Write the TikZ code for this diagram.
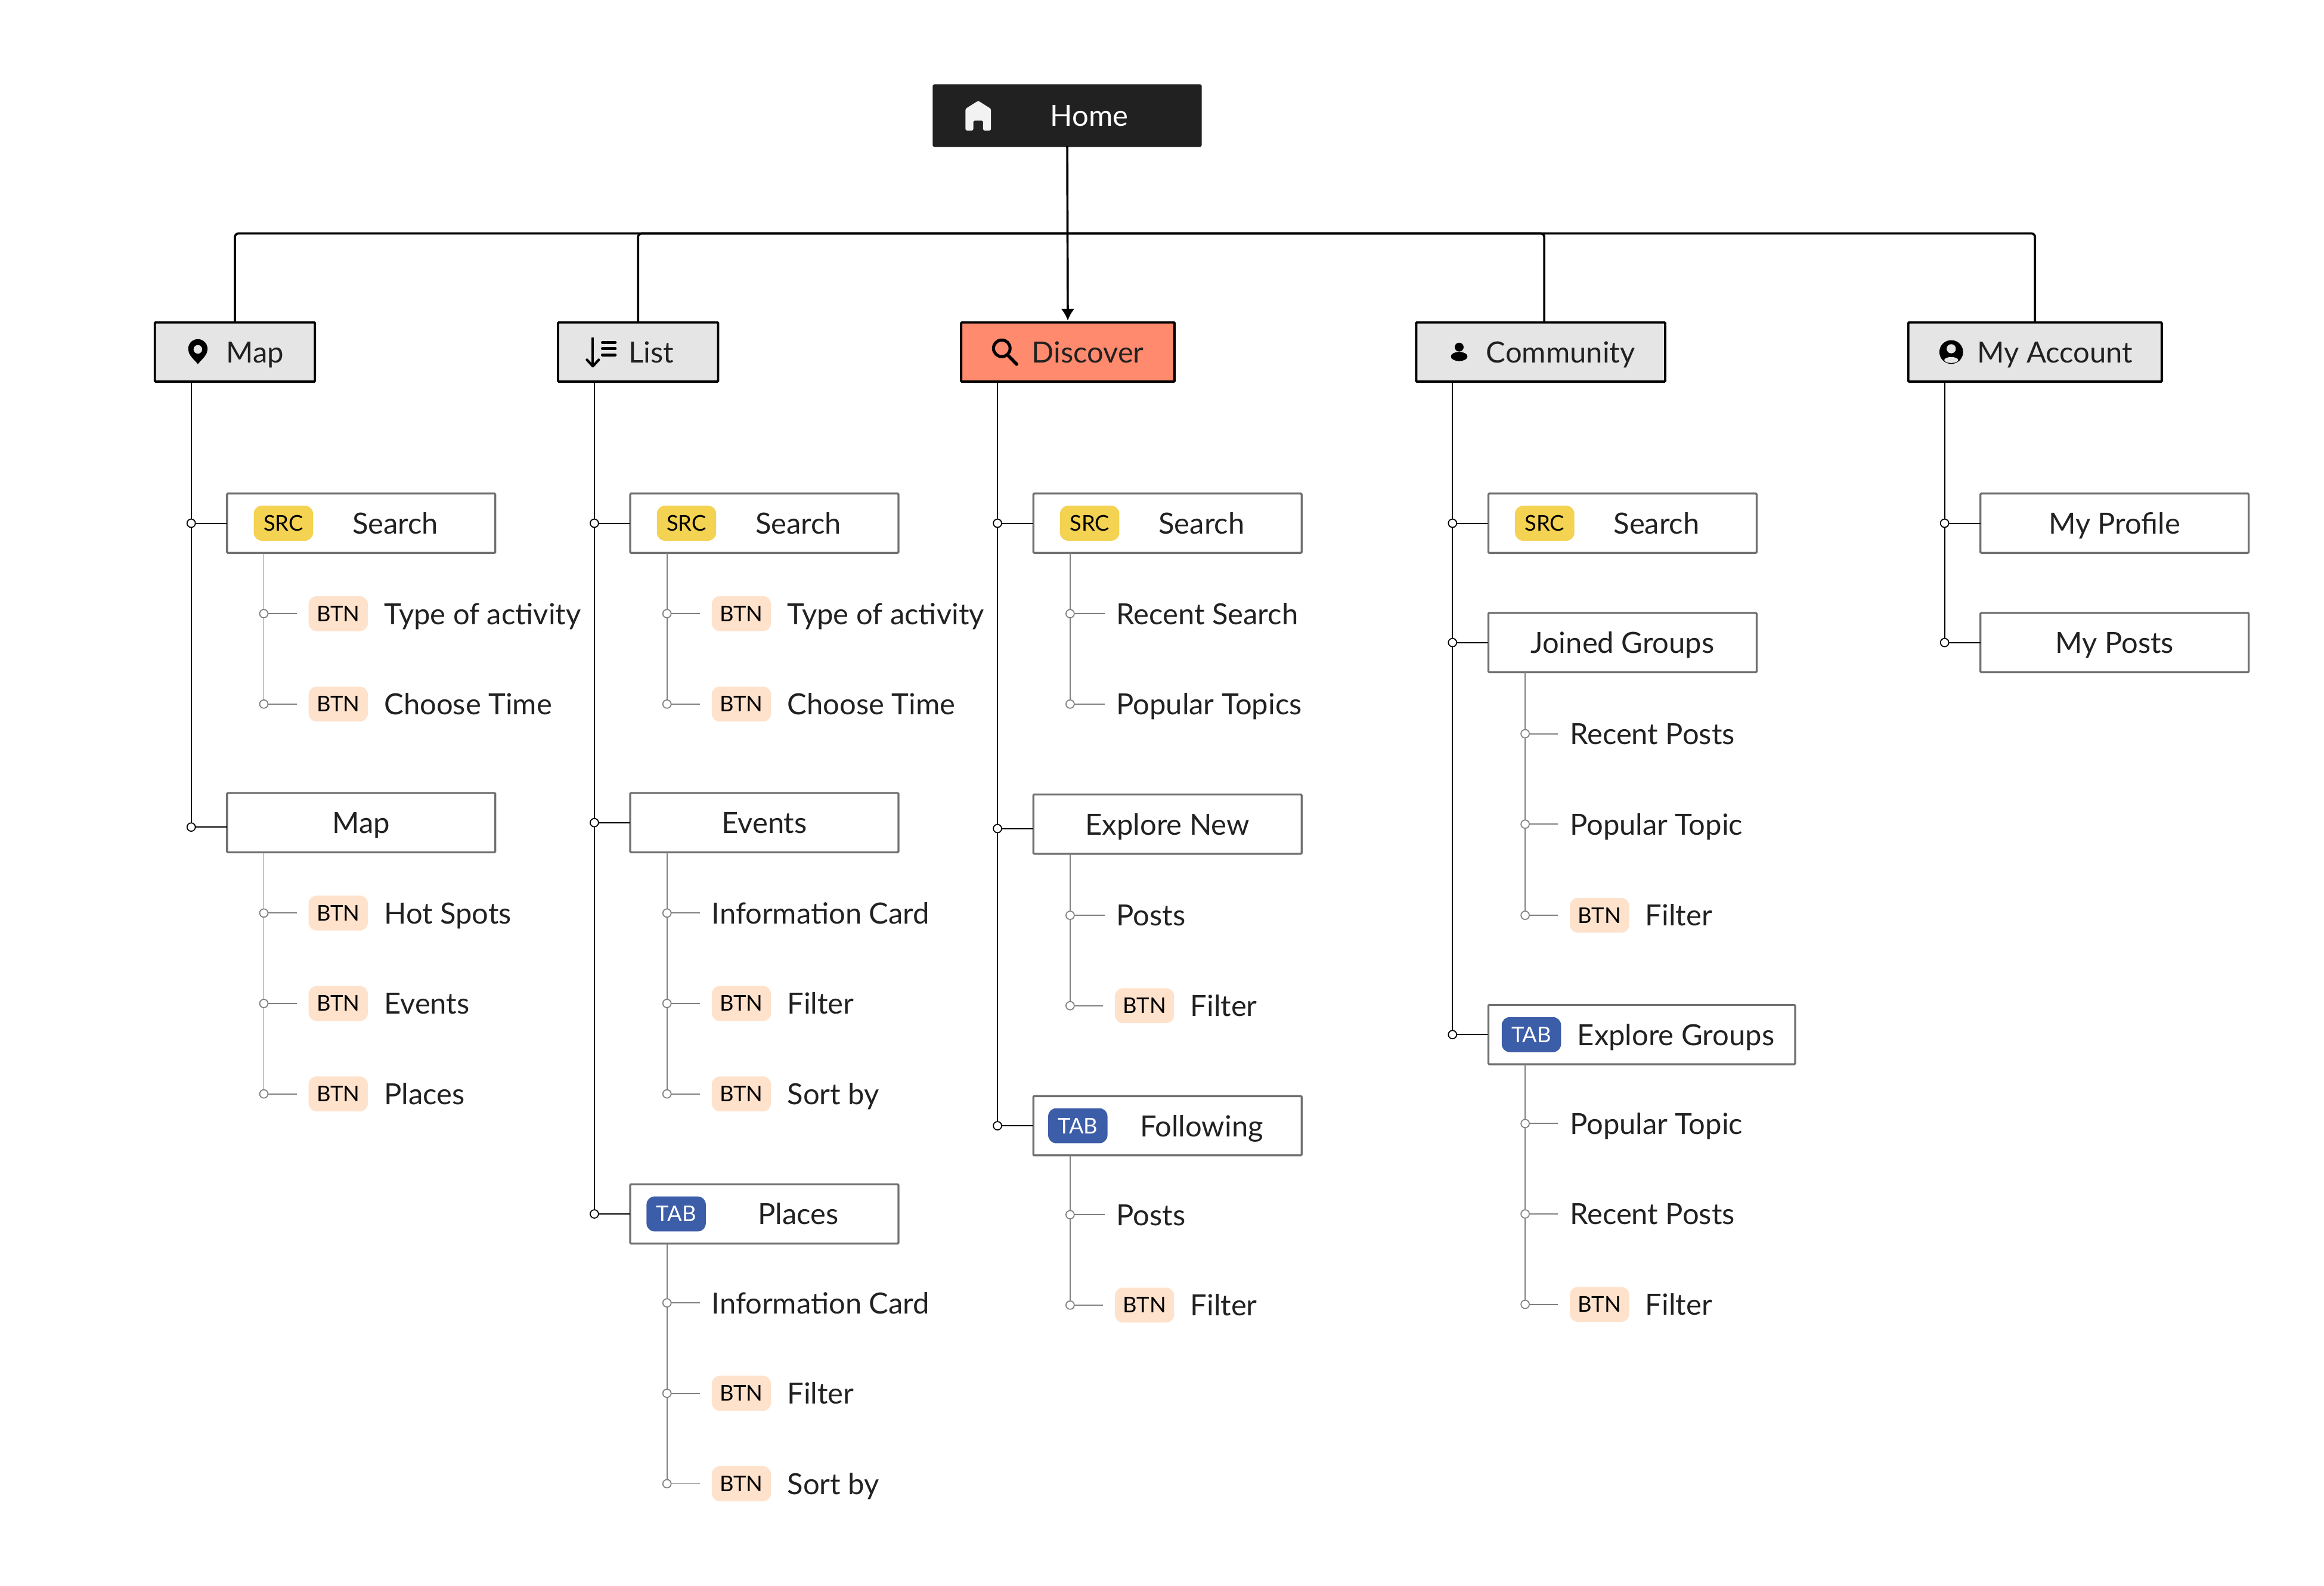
\documentclass[tikz,border=0pt]{standalone}
\usepackage{fontspec}
\setmainfont{Lato}
\usetikzlibrary{arrows.meta,shapes,calc,positioning}
\definecolor{inkblack}{HTML}{212121}
\definecolor{catgray}{HTML}{E5E5E5}
\definecolor{coral}{HTML}{FF8A6E}
\definecolor{boxgray}{HTML}{707070}
\definecolor{linegray}{HTML}{808080}
\definecolor{srcyellow}{HTML}{F4D252}
\definecolor{btnpeach}{HTML}{FFE2CC}
\definecolor{tabblue}{HTML}{3C5DA8}
\tikzset{catbox/.style={draw=black, line width=1.1pt, fill=catgray, text=inkblack, rounded corners=0.4pt, outer sep=0pt, inner sep=0pt, minimum height=10mm, font=\fontsize{14}{16}\selectfont, text height=3.6mm, text depth=0mm, execute at begin node=\hspace*{#1}}, catbox/.default=6.75mm}
\tikzset{childbox/.style={draw=boxgray, line width=0.95pt, fill=white, text=inkblack, rounded corners=0.4pt, outer sep=0pt, inner sep=0pt, minimum width=45.25mm, minimum height=10mm, font=\fontsize{14}{16}\selectfont, text height=3.6mm, text depth=0mm}}
\tikzset{tagbox/.style={childbox, execute at begin node=\hspace*{11.5mm}}}
\tikzset{label/.style={text=inkblack, inner sep=0pt, outer sep=0pt, font=\fontsize{14}{16}\selectfont, text height=3.6mm, text depth=0mm}}
\tikzset{badge/.style={inner sep=0pt, outer sep=0pt, rounded corners=1.35mm, minimum width=10mm, minimum height=5.9mm, font=\fontsize{10.4}{12}\selectfont, text height=2.6mm, text depth=0mm}}
\tikzset{btn/.style={badge, fill=btnpeach, text=black}}
\tikzset{src/.style={badge, fill=srcyellow, text=black}}
\tikzset{tab/.style={badge, fill=tabblue, text=white}}
\tikzset{bdot/.style={draw=black, line width=0.5pt, fill=white, circle, inner sep=0pt, outer sep=0pt, minimum size=1.4mm}}
\tikzset{gdot/.style={bdot, draw=linegray}}
\tikzset{line/.style={draw, line width=1.05pt, rounded corners=0.6mm}}
\tikzset{bline/.style={draw, black, line width=0.55pt}}
\tikzset{gline/.style={draw, linegray, line width=0.55pt}}
\tikzset{stub/.style={gline, shorten >=2mm}}
% icons, drawn around the point they are put at
\tikzset{pinicon/.pic={
  \fill (0,-2.2) circle (6.5);
  \fill (-6.2,0) .. controls (-5,3.5) and (-2,5.5) .. (0,8.2) .. controls (2,5.5) and (5,3.5) .. (6.2,0) -- cycle;
  \fill [catgray] (0,-1.8) circle (2.9);}}
\tikzset{sorticon/.pic={
  \draw [line width=1.2pt] (-5.5,-9.8) -- (-5.5,9.4);
  \draw [line width=1.2pt, line cap=round, line join=round] (-9.5,5.2) -- (-5.5,9.6) -- (-1.5,5.2);
  \draw [line width=1.5pt, line cap=round] (1,-6.5) -- (9.5,-6.5) (1,-2.3) -- (9.5,-2.3) (1,1.9) -- (9.5,1.9);}}
\tikzset{searchicon/.pic={
  \draw [line width=1.45pt] (-1.6,-2.5) circle (5.6);
  \draw [line width=1.6pt, line cap=round] (2.2,1.8) -- (8.4,8.2);}}
\tikzset{personicon/.pic={
  \fill (0,-3.3) circle (3);
  \fill (0,3) ellipse (5.6 and 3.1);}}
\tikzset{usericon/.pic={
  \fill (0,0) circle (8);
  \fill [catgray] (0,-2.2) circle (3.1);
  \fill [catgray] (0,5.4) ellipse (4.7 and 2);}}
\tikzset{homeicon/.pic={
  \fill [rounded corners=0.25mm, white!95!black] (0,-10) -- (8.6,-4.6) -- (8.6,10) -- (3.3,10) -- (3.3,3.4) -- (-3.3,3.4) -- (-3.3,10) -- (-8.6,10) -- (-8.6,-4.6) -- cycle;}}

\begin{document}
\begin{tikzpicture}[x=0.25mm,y=-0.25mm]
\useasboundingbox (0,0) rectangle (1568,1070);
% top level
\node [catbox=7.5mm, fill=inkblack, draw=inkblack, text=white, minimum width=45mm, minimum height=10.2mm] (home) at (720,78) {Home};
\node [catbox, minimum width=27mm] (map) at (158.5,237.5) {Map};
\node [catbox=4.5mm, minimum width=27mm] (list) at (430.5,237.5) {List};
\node [catbox, fill=coral, minimum width=36mm] (disc) at (720.5,237.5) {Discover};
\node [catbox, minimum width=42mm] (comm) at (1039.5,237.5) {Community};
\node [catbox, minimum width=42.75mm] (acct) at (1373,237.5) {My Account};
\coordinate (bus) at (720,157.5);
\pic at ([xshift=7.5mm]home.west) {homeicon};
\pic at ([xshift=7.25mm]map.west) {pinicon};
\pic at ([xshift=7.25mm]list.west) {sorticon};
\pic at ([xshift=7.25mm]disc.west) {searchicon};
\pic at ([xshift=7.25mm]comm.west) {personicon};
\pic at ([xshift=7.25mm]acct.west) {usericon};
\path [line, -{Latex[length=2mm,width=2.3mm]}, shorten >=0.3mm] (home) -- (disc);
\path [line] (map) |- (bus);
\path [line] (list) |- (bus);
\path [line] ([xshift=0.6mm]comm.north) |- (bus);
\path [line] (acct) |- (bus);
%
% map column
\node [bdot] (md1) at (129,353) {};
\node [bdot] (md2) at (129,558) {};
\node [tagbox, right=5.35mm of md1] (msrc) {Search};
\node [childbox, right=5.35mm of md2, yshift=0.75mm] (mmap) {Map};
\node [src, right=4.5mm of msrc.west] (msrcb) {SRC};
\path [bline] (map.south -| md1) -- (md1) -- (md2);
\path [bline] (md1) -- (md1 -| msrc.west);
\path [bline] (md2) -- (md2 -| mmap.west);
\node [gdot] (m11) at (178,414) {};
\node [btn, right=6.85mm of m11] (m11b) {BTN};
\node [label, right=2.75mm of m11b] (m11t) {Type of activity};
\node [gdot] (m12) at (178,475) {};
\node [btn, right=6.85mm of m12] (m12b) {BTN};
\node [label, right=2.75mm of m12b] (m12t) {Choose Time};
\path [gline] (msrc.south -| m11) -- (m11) -- (m12);
\path [stub] (m11) -- (m11b);
\path [stub] (m12) -- (m12b);
\node [gdot] (m21) at (178,616) {};
\node [btn, right=6.85mm of m21] (m21b) {BTN};
\node [label, right=2.75mm of m21b] (m21t) {Hot Spots};
\node [gdot] (m22) at (178,677) {};
\node [btn, right=6.85mm of m22] (m22b) {BTN};
\node [label, right=2.75mm of m22b] (m22t) {Events};
\node [gdot] (m23) at (178,738) {};
\node [btn, right=6.85mm of m23] (m23b) {BTN};
\node [label, right=2.75mm of m23b] (m23t) {Places};
\path [gline] (mmap.south -| m21) -- (m21) -- (m22) -- (m23);
\path [stub] (m21) -- (m21b);
\path [stub] (m22) -- (m22b);
\path [stub] (m23) -- (m23b);
%
% list column
\node [bdot] (ld1) at (401,353) {};
\node [bdot] (ld2) at (401,555) {};
\node [bdot] (ld3) at (401,819) {};
\node [tagbox, right=5.35mm of ld1] (lsrc) {Search};
\node [childbox, right=5.35mm of ld2] (lev) {Events};
\node [tagbox, right=5.35mm of ld3] (lpl) {Places};
\node [src, right=4.5mm of lsrc.west] (lsrcb) {SRC};
\node [tab, right=2.75mm of lpl.west] (lplb) {TAB};
\path [bline] (list.south -| ld1) -- (ld1) -- (ld2) -- (ld3);
\path [bline] (ld1) -- (lsrc);
\path [bline] (ld2) -- (lev);
\path [bline] (ld3) -- (lpl);
\node [gdot] (l11) at (450,414) {};
\node [btn, right=6.85mm of l11] (l11b) {BTN};
\node [label, right=2.75mm of l11b] (l11t) {Type of activity};
\node [gdot] (l12) at (450,475) {};
\node [btn, right=6.85mm of l12] (l12b) {BTN};
\node [label, right=2.75mm of l12b] (l12t) {Choose Time};
\path [gline] (lsrc.south -| l11) -- (l11) -- (l12);
\path [stub] (l11) -- (l11b);
\path [stub] (l12) -- (l12b);
\node [gdot] (l21) at (450,616) {};
\node [label, right=6.85mm of l21] (l21t) {Information Card};
\node [gdot] (l22) at (450,677) {};
\node [btn, right=6.85mm of l22] (l22b) {BTN};
\node [label, right=2.75mm of l22b] (l22t) {Filter};
\node [gdot] (l23) at (450,738) {};
\node [btn, right=6.85mm of l23] (l23b) {BTN};
\node [label, right=2.75mm of l23b] (l23t) {Sort by};
\path [gline] (lev.south -| l21) -- (l21) -- (l22) -- (l23);
\path [stub] (l21) -- (l21t);
\path [stub] (l22) -- (l22b);
\path [stub] (l23) -- (l23b);
\node [gdot] (l31) at (450,879) {};
\node [label, right=6.85mm of l31] (l31t) {Information Card};
\node [gdot] (l32) at (450,940) {};
\node [btn, right=6.85mm of l32] (l32b) {BTN};
\node [label, right=2.75mm of l32b] (l32t) {Filter};
\node [gdot] (l33) at (450,1001) {};
\node [btn, right=6.85mm of l33] (l33b) {BTN};
\node [label, right=2.75mm of l33b] (l33t) {Sort by};
\path [gline] (lpl.south -| l31) -- (l31) -- (l32) -- (l33);
\path [stub] (l31) -- (l31t);
\path [stub] (l32) -- (l32b);
\path [stub] (l33) -- (l33b);
%
% discover column
\node [bdot] (dd1) at (673,353) {};
\node [bdot] (dd2) at (673,559) {};
\node [bdot] (dd3) at (673,759.5) {};
\node [tagbox, right=5.35mm of dd1] (dsrc) {Search};
\node [childbox, right=5.35mm of dd2, yshift=0.75mm] (dexp) {Explore New};
\node [tagbox, right=5.35mm of dd3] (dfol) {Following};
\node [src, right=4.5mm of dsrc.west] (dsrcb) {SRC};
\node [tab, right=2.5mm of dfol.west] (dfolb) {TAB};
\path [bline] (disc.south -| dd1) -- (dd1) -- (dd2) -- (dd3);
\path [bline] (dd1) -- (dsrc);
\path [bline] (dd2) -- (dd2 -| dexp.west);
\path [bline] (dd3) -- (dfol);
\node [gdot] (d11) at (722,414) {};
\node [label, right=7.1mm of d11] (d11t) {Recent Search};
\node [gdot] (d12) at (722,475) {};
\node [label, right=7.1mm of d12] (d12t) {Popular Topics};
\path [gline] (dsrc.south -| d11) -- (d11) -- (d12);
\path [stub] (d11) -- (d11t);
\path [stub] (d12) -- (d12t);
\node [gdot] (d21) at (722,617.5) {};
\node [label, right=7.1mm of d21] (d21t) {Posts};
\node [gdot] (d22) at (722,678.5) {};
\node [btn, right=6.85mm of d22] (d22b) {BTN};
\node [label, right=2.75mm of d22b] (d22t) {Filter};
\path [gline] (dexp.south -| d21) -- (d21) -- (d22);
\path [stub] (d21) -- (d21t);
\path [stub] (d22) -- (d22b);
\node [gdot] (d31) at (722,819.5) {};
\node [label, right=7.1mm of d31] (d31t) {Posts};
\node [gdot] (d32) at (722,880.5) {};
\node [btn, right=6.85mm of d32] (d32b) {BTN};
\node [label, right=2.75mm of d32b] (d32t) {Filter};
\path [gline] (dfol.south -| d31) -- (d31) -- (d32);
\path [stub] (d31) -- (d31t);
\path [stub] (d32) -- (d32b);
%
% community column
\node [bdot] (cd1) at (980,353) {};
\node [bdot] (cd2) at (980,433.5) {};
\node [bdot] (cd3) at (980,698) {};
\node [tagbox, right=5.35mm of cd1] (csrc) {Search};
\node [childbox, right=5.35mm of cd2] (cjoin) {Joined Groups};
\node [tagbox, minimum width=51.75mm, right=5.35mm of cd3] (cexp) {Explore Groups};
\node [src, right=4.5mm of csrc.west] (csrcb) {SRC};
\node [tab, right=2.25mm of cexp.west] (cexpb) {TAB};
\path [bline] (comm.south -| cd1) -- (cd1) -- (cd2) -- (cd3);
\path [bline] (cd1) -- (csrc);
\path [bline] (cd2) -- (cjoin);
\path [bline] (cd3) -- (cexp);
\node [gdot] (c21) at (1029,495) {};
\node [label, right=6.85mm of c21] (c21t) {Recent Posts};
\node [gdot] (c22) at (1029,556) {};
\node [label, right=6.85mm of c22] (c22t) {Popular Topic};
\node [gdot] (c23) at (1029,617.5) {};
\node [btn, right=6.85mm of c23] (c23b) {BTN};
\node [label, right=2.75mm of c23b] (c23t) {Filter};
\path [gline] (cjoin.south -| c21) -- (c21) -- (c22) -- (c23);
\path [stub] (c21) -- (c21t);
\path [stub] (c22) -- (c22t);
\path [stub] (c23) -- (c23b);
\node [gdot] (c31) at (1029,758) {};
\node [label, right=6.85mm of c31] (c31t) {Popular Topic};
\node [gdot] (c32) at (1029,819) {};
\node [label, right=6.85mm of c32] (c32t) {Recent Posts};
\node [gdot] (c33) at (1029,880) {};
\node [btn, right=6.85mm of c33] (c33b) {BTN};
\node [label, right=2.75mm of c33b] (c33t) {Filter};
\path [gline] (cexp.south -| c31) -- (c31) -- (c32) -- (c33);
\path [stub] (c31) -- (c31t);
\path [stub] (c32) -- (c32t);
\path [stub] (c33) -- (c33b);
%
% account column
\node [bdot] (ad1) at (1312,353) {};
\node [bdot] (ad2) at (1312,433.5) {};
\node [childbox, right=5.35mm of ad1] (aprof) {My Profile};
\node [childbox, right=5.35mm of ad2] (aposts) {My Posts};
\path [bline] (acct.south -| ad1) -- (ad1) -- (ad2);
\path [bline] (ad1) -- (aprof);
\path [bline] (ad2) -- (aposts);
\end{tikzpicture}
\end{document}
